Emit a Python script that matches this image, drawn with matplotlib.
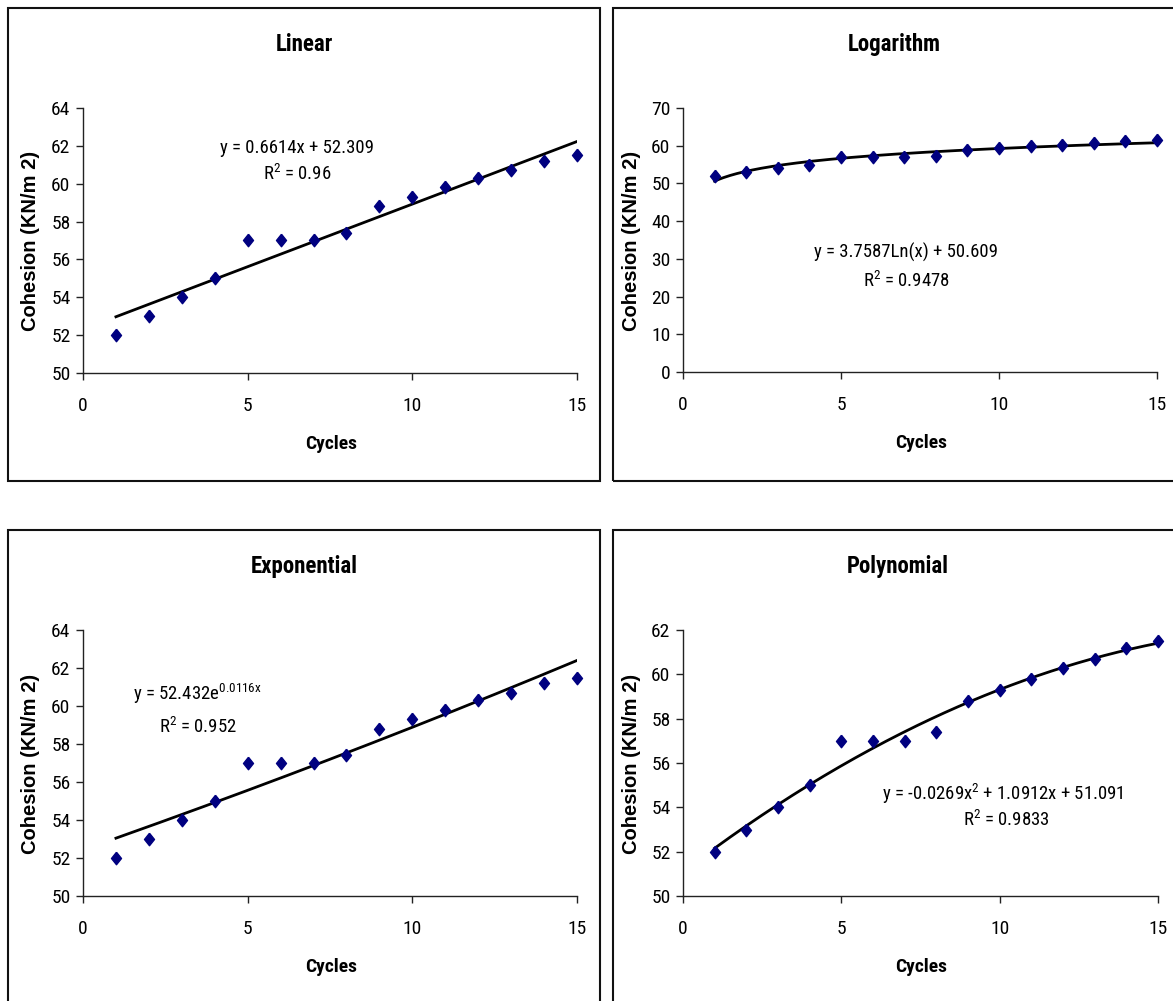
import numpy as np
import matplotlib
matplotlib.use("Agg")
import matplotlib.pyplot as plt
from matplotlib.patches import Rectangle

plt.rcParams['font.family'] = ['Roboto Condensed', 'Liberation Sans', 'DejaVu Sans']
plt.rcParams['mathtext.default'] = 'regular'

# measured data (same points on all four panels)
cycles = [1, 2, 3, 4, 5, 6, 7, 8, 9, 10, 11, 12, 13, 14, 15]
cohesion = [52, 53, 54, 55, 57, 57, 57, 57.4, 58.8, 59.3, 59.8, 60.3, 60.7, 61.2, 61.5]

# trendline coefficients as printed on the chart
lin_coef = [0.6614, 52.309]
log_coef = [3.7587, 50.609]
exp_coef = [52.432, 0.0116]
poly_coef = [-0.0269, 1.0912, 51.091]

titles = ["Linear", "Logarithm", "Exponential", "Polynomial"]
eq_texts = [
    ("y = 0.6614x + 52.309", "R$^{2}$ = 0.96"),
    ("y = 3.7587Ln(x) + 50.609", "R$^{2}$ = 0.9478"),
    ("y = 52.432e$^{0.0116x}$", "R$^{2}$ = 0.952"),
    ("y = -0.0269x$^{2}$ + 1.0912x + 51.091", "R$^{2}$ = 0.9833"),
]
y_ranges = [(50, 64, 2), (0, 70, 10), (50, 64, 2), (50, 62, 2)]

W, H = 1173, 1001
fig = plt.figure(figsize=(W / 100, H / 100), dpi=100)


def fx(px):
    return px / W


def fy(py):
    return 1 - py / H


# panel frames (pixel boxes, top-left origin)
for (x0, y0, x1, y1) in [(8, 8, 600, 481), (613, 8, 1185, 481),
                         (8, 530, 600, 1010), (613, 530, 1185, 1010)]:
    fig.patches.append(Rectangle((fx(x0), fy(y1)), (x1 - x0) / W, (y1 - y0) / H,
                                 transform=fig.transFigure, fill=False,
                                 edgecolor='#111111', linewidth=1.5))

axes_px = [(83, 108, 577, 373), (683, 108, 1157, 372),
           (83, 630, 577, 896), (683, 630, 1158, 896)]
title_px = [(304, 51), (894, 51), (304, 573), (898, 573)]
# (eq centre x, eq baseline), (R2 centre x, R2 baseline) in pixels
eq_px = [((297, 153), (297, 180)),
         ((906, 258), (906, 287)),
         ((197, 700), (198, 733)),
         ((1003, 800), (1006, 826))]

diamond = [(0, 1), (0.8, 0), (0, -1), (-0.8, 0), (0, 1)]

xs = np.linspace(1, 15, 200)
x = np.array(cycles)
fits = [
    lin_coef[0] * xs + lin_coef[1],
    log_coef[0] * np.log(xs) + log_coef[1],
    exp_coef[0] * np.exp(exp_coef[1] * xs),
    np.polyval(poly_coef, xs),
]

for i in range(4):
    x0, y0, x1, y1 = axes_px[i]
    ax = fig.add_axes([fx(x0), fy(y1), (x1 - x0) / W, (y1 - y0) / H])
    ax.plot(xs, fits[i], color='black', linewidth=2.0, zorder=2)
    ax.plot(x, cohesion, linestyle='none', marker=diamond, markersize=9,
            color='#000080', clip_on=False, zorder=3)

    lo, hi, step = y_ranges[i]
    ax.set_ylim(lo, hi)
    ax.set_yticks(np.arange(lo, hi + step, step))
    ax.set_xlim(0, 15)
    ax.set_xticks([0, 5, 10, 15])

    for s in ['top', 'right']:
        ax.spines[s].set_visible(False)
    for s in ['left', 'bottom']:
        ax.spines[s].set_linewidth(1.0)
        ax.spines[s].set_color('#222222')
    ax.tick_params(direction='out', length=5, width=1, labelsize=14, pad=4,
                   color='#222222')
    ax.tick_params(axis='x', pad=12)

    ax.set_xlabel("Cycles", fontsize=14, fontweight='bold', va='baseline')
    ax.xaxis.set_label_coords(0.502, -76 / (y1 - y0))
    ax.set_ylabel("Cohesion (KN/m 2)", fontsize=14.5, fontweight='bold',
                  family=['Liberation Sans', 'DejaVu Sans'])
    ax.yaxis.set_label_coords(-0.088, 0.498)

    tx, ty = title_px[i]
    fig.text(fx(tx), fy(ty), titles[i], ha='center', va='baseline',
             fontsize=16.5, fontweight='bold')

    for (px, py), txt in zip(eq_px[i], eq_texts[i]):
        fig.text(fx(px), fy(py), txt, ha='center', va='baseline', fontsize=13.5)

fig.savefig("out.png", dpi=100)
